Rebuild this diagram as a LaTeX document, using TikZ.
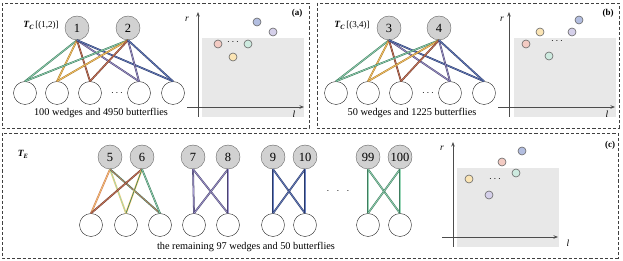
\documentclass[tikz,border=0pt]{standalone}
\usepackage{fontspec}
\setmainfont{Liberation Serif}
\usetikzlibrary{arrows.meta}
\definecolor{gD}{HTML}{3E7D5E}\definecolor{gL}{HTML}{9AD6B8}
\definecolor{oD}{HTML}{B07A2A}\definecolor{oL}{HTML}{F5CC70}
\definecolor{rD}{HTML}{6E3A2A}\definecolor{rL}{HTML}{D07A5E}
\definecolor{pD}{HTML}{4A4470}\definecolor{pL}{HTML}{A49AD0}
\definecolor{bD}{HTML}{2A3A6A}\definecolor{bL}{HTML}{6A80C0}
\definecolor{ptB}{HTML}{B3BEE0}\definecolor{ptP}{HTML}{D5D0EA}
\definecolor{ptR}{HTML}{F3CBC3}\definecolor{ptG}{HTML}{CDEADF}
\definecolor{ptY}{HTML}{FBE5B5}
\newcommand\tclabel[1]{{\fontsize{9.5}{10}\selectfont\bfseries\itshape T\raisebox{-0.45ex}{\fontsize{6.5}{7}\selectfont C}}\,{\fontsize{9}{10}\selectfont[#1]}}
\begin{document}
\begin{tikzpicture}[x=1pt,y=-1pt,
 topn/.style={circle,draw=black!60,fill=black!18,minimum size=24pt,inner sep=0pt,font=\fontsize{12.5}{13}\selectfont},
 botn/.style={circle,draw=black!85,fill=white,minimum size=23pt,inner sep=0pt},
 pt/.style={circle,draw=black!60,line width=0.6pt,minimum size=8pt,inner sep=0pt},
 pr/.style 2 args={draw=#1,double=#2,double distance=0.65pt,line width=0.55pt},
 panel/.style={draw=black!75,dash pattern=on 3.2pt off 2pt,line width=0.7pt},
 ax/.style={draw=black!70,line width=0.8pt,-{Stealth[length=4.5pt,width=3.5pt]}},
 axlab/.style={font=\fontsize{9.5}{10}\selectfont\itshape,inner sep=0pt},
 tag/.style={font=\fontsize{9}{10}\selectfont\bfseries,inner sep=0pt},
 captxt/.style={font=\fontsize{10.3}{11}\selectfont,inner sep=0pt},
 grayrect/.style={fill=black!9,draw=none}]
\useasboundingbox (0,0) rectangle (623,261);
% panels
\draw[panel] (2,3) rectangle (309,128);
\draw[panel] (317,3) rectangle (619,128);
\draw[panel] (2,133) rectangle (618,258);

% ---------- panel (a) ----------
\node[inner sep=0pt] (la) at (41,25) {\tclabel{(1,2)}};
\node[topn] (a1) at (77,28) {1};
\node[topn] (a2) at (128,28) {2};
\node[botn] (ab1) at (25,93) {};
\node[botn] (ab2) at (57,93) {};
\node[botn] (ab3) at (90,93) {};
\node[inner sep=0pt] (adots) at (117,93) {$\cdots$};
\node[botn] (ab5) at (139,93) {};
\node[botn] (ab6) at (173,93) {};
\foreach \t in {a1,a2}{
 \draw[pr={gD}{gL}] (\t.south) -- (ab1.north);
 \draw[pr={oD}{oL}] (\t.south) -- (ab2.north);
 \draw[pr={rD}{rL}] (\t.south) -- (ab3.north);
 \draw[pr={pD}{pL}] (\t.south) -- (ab5.north);
 \draw[pr={bD}{bL}] (\t.south) -- (ab6.north);
}
\node[captxt] (capa) at (101,113) {100 wedges and 4950 butterflies};
\fill[grayrect] (202,38) rectangle (304,117);
\coordinate (ay0) at (198,117); \coordinate (ay1) at (198,12);
\coordinate (ax0) at (187,107); \coordinate (ax1) at (304,107);
\draw[ax] (ay0) -- (ay1);
\draw[ax] (ax0) -- (ax1);
\node[axlab] (ar) at (187,19) {r};
\node[axlab] (al) at (294,114) {l};
\node[tag] (ta) at (297,13) {(a)};
\node[pt,fill=ptB] (pa1) at (257,22) {};
\node[pt,fill=ptP] (pa2) at (273,32) {};
\node[pt,fill=ptR] (pa3) at (218,44) {};
\node[inner sep=0pt] (pad) at (233,42) {$\cdots$};
\node[pt,fill=ptG] (pa4) at (248,44) {};
\node[pt,fill=ptY] (pa5) at (233,57) {};

% ---------- panel (b) ----------
\begin{scope}[xshift=311pt]
\node[inner sep=0pt] (lb) at (41,25) {\tclabel{(3,4)}};
\node[topn] (b1) at (78,28) {3};
\node[topn] (b2) at (128,28) {4};
\node[botn] (bb1) at (25,93) {};
\node[botn] (bb2) at (57,93) {};
\node[botn] (bb3) at (90,93) {};
\node[inner sep=0pt] (bdots) at (117,93) {$\cdots$};
\node[botn] (bb5) at (139,93) {};
\node[botn] (bb6) at (173,93) {};
\foreach \t in {b1,b2}{
 \draw[pr={gD}{gL}] (\t.south) -- (bb1.north);
 \draw[pr={oD}{oL}] (\t.south) -- (bb2.north);
 \draw[pr={rD}{rL}] (\t.south) -- (bb3.north);
 \draw[pr={pD}{pL}] (\t.south) -- (bb5.north);
 \draw[pr={bD}{bL}] (\t.south) -- (bb6.north);
}
\node[captxt] (capb) at (101,113) {50 wedges and 1225 butterflies};
\end{scope}
\fill[grayrect] (514,38) rectangle (616,117);
\coordinate (by0) at (509,117); \coordinate (by1) at (509,12);
\coordinate (bx0) at (498,107); \coordinate (bx1) at (615,107);
\draw[ax] (by0) -- (by1);
\draw[ax] (bx0) -- (bx1);
\node[axlab] (br) at (502,19) {r};
\node[axlab] (bl) at (607,114) {l};
\node[tag] (tb) at (608,13) {(b)};
\node[pt,fill=ptB] (pb1) at (579,20) {};
\node[pt,fill=ptP] (pb2) at (572,32) {};
\node[pt,fill=ptY] (pb3) at (540,32) {};
\node[pt,fill=ptR] (pb4) at (526,44) {};
\node[inner sep=0pt] (pbd) at (557,41) {$\cdots$};
\node[pt,fill=ptG] (pb5) at (549,56) {};

% ---------- panel (c) ----------
\node[inner sep=0pt] (lc) at (23,154) {{\fontsize{9.5}{10}\selectfont\bfseries\itshape T\raisebox{-0.45ex}{\fontsize{6.5}{7}\selectfont E}}};
\node[topn] (c5) at (110,157) {5};
\node[topn] (c6) at (142,157) {6};
\node[topn] (c7) at (193,157) {7};
\node[topn] (c8) at (228,157) {8};
\node[topn] (c9) at (273,157) {9};
\node[topn] (c10) at (305,157) {10};
\node[topn] (c99) at (368,157) {99};
\node[topn] (c100) at (400,157) {100};
\node[botn] (d1) at (91,225) {};
\node[botn] (d2) at (126,225) {};
\node[botn] (d3) at (160,225) {};
\node[botn] (d4) at (194,225) {};
\node[botn] (d5) at (228,225) {};
\node[botn] (d6) at (273,225) {};
\node[botn] (d7) at (305,225) {};
\node[botn] (d8) at (368,225) {};
\node[botn] (d9) at (400,225) {};
\node[inner sep=0pt] (cdots) at (338,191) {$\cdot\ \ \cdot\ \ \cdot$};
\draw[pr={rL}{oL}] (c5.south) -- (d1.north);
\draw[pr={oL}{gL}] (c5.south) -- (d2.north);
\draw[pr={gD}{rL}] (c5.south) -- (d3.north);
\draw[pr={rD}{rL}] (c6.south) -- (d1.north);
\draw[pr={oL}{gD}] (c6.south) -- (d2.north);
\draw[pr={gD}{gL}] (c6.south) -- (d3.north);
\draw[pr={pD}{pL}] (c7.south) -- (d4.north);
\draw[pr={pD}{pL}] (c7.south) -- (d5.north);
\draw[pr={pD}{pL}] (c8.south) -- (d4.north);
\draw[pr={pD}{pL}] (c8.south) -- (d5.north);
\draw[pr={bD}{bL}] (c9.south) -- (d6.north);
\draw[pr={bD}{bL}] (c9.south) -- (d7.north);
\draw[pr={bD}{bL}] (c10.south) -- (d6.north);
\draw[pr={bD}{bL}] (c10.south) -- (d7.north);
\draw[pr={gD}{gL}] (c99.south) -- (d8.north);
\draw[pr={gD}{gL}] (c99.south) -- (d9.north);
\draw[pr={gD}{gL}] (c100.south) -- (d8.north);
\draw[pr={gD}{gL}] (c100.south) -- (d9.north);
\node[captxt] (capc) at (246,247) {the remaining 97 wedges and 50 butterflies};
\fill[grayrect] (457,168) rectangle (559,247);
\coordinate (cy0) at (453,247); \coordinate (cy1) at (453,142);
\coordinate (cx0) at (442,237); \coordinate (cx1) at (558,237);
\draw[ax] (cy0) -- (cy1);
\draw[ax] (cx0) -- (cx1);
\node[axlab] (cr) at (442,148) {r};
\node[axlab] (cl) at (568,243) {l};
\node[tag] (tcc) at (610,145) {(c)};
\node[pt,fill=ptB] (pc1) at (522,151) {};
\node[pt,fill=ptR] (pc2) at (502,162) {};
\node[pt,fill=ptG] (pc3) at (516,173) {};
\node[pt,fill=ptY] (pc4) at (469,179) {};
\node[inner sep=0pt] (pcd) at (495,179) {$\cdots$};
\node[pt,fill=ptP] (pc5) at (489,195) {};
\end{tikzpicture}
\end{document}
